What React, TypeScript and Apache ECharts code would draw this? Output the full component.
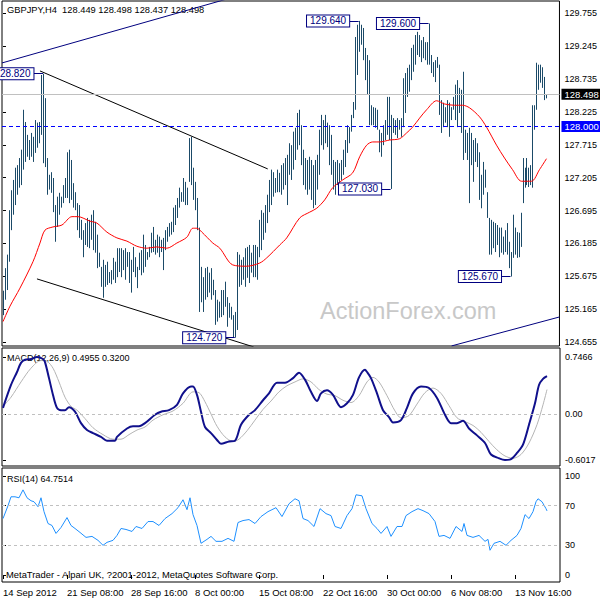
import React, { useEffect, useRef } from 'react';
import * as echarts from 'echarts';

// ---------- DATA ----------
const symbolTitle = 'GBPJPY,H4';
const lastBar = [128.449, 128.498, 128.437, 128.498]; // O H L C

const highs = [
  125.45,125.80,126.01,126.70,127.01,127.17,127.36,127.40,127.51,127.64,
  128.26,128.07,127.87,127.79,127.90,127.84,128.10,128.06,128.07,128.80,
  128.82,128.44,127.51,127.25,127.29,127.20,126.78,126.91,126.97,126.91,
  127.09,127.20,127.60,127.64,127.48,127.12,126.98,126.81,126.78,126.55,
  126.39,126.50,126.58,126.55,126.63,126.70,126.52,126.32,126.04,125.82,
  125.93,125.85,125.90,125.74,125.77,125.96,125.90,126.11,126.11,126.11,
  126.08,126.11,126.05,126.05,125.93,126.13,125.97,125.82,126.04,126.08,
  126.32,126.16,126.05,126.13,126.35,126.44,126.24,126.32,126.29,126.24,
  126.27,126.39,126.44,126.50,126.52,126.74,126.78,126.89,127.05,126.98,
  127.20,127.14,127.05,127.82,127.84,127.36,127.14,126.89,126.43,125.82,
  125.66,125.80,125.82,125.73,125.80,125.62,125.46,125.31,125.28,125.46,
  125.46,125.59,125.35,125.26,125.20,125.07,125.12,126.05,126.01,125.93,
  125.97,126.11,126.13,126.16,126.04,126.16,126.16,126.13,126.55,126.70,
  126.66,126.78,126.94,127.17,127.33,127.29,127.20,127.33,127.28,127.40,
  127.43,127.51,127.56,127.74,127.71,127.92,127.98,128.21,128.26,128.02,
  127.64,127.51,127.48,127.53,127.48,127.40,127.48,127.56,127.95,128.18,
  128.10,128.18,128.06,128.02,127.87,127.48,127.45,127.48,127.43,127.48,
  127.64,127.79,128.02,127.99,128.18,128.38,129.39,129.58,129.64,129.58,
  129.53,129.22,129.11,129.03,128.33,128.30,128.29,128.26,127.95,127.90,
  128.02,128.10,128.46,128.46,128.18,128.13,128.10,128.13,128.10,128.13,
  128.75,128.83,128.91,128.96,129.22,129.27,129.42,129.47,129.42,129.34,
  129.39,129.31,129.31,129.60,129.11,129.00,129.03,129.08,128.96,128.41,
  128.37,128.30,128.41,128.37,128.30,128.46,128.65,128.72,128.60,128.57,
  128.85,127.95,127.90,127.98,127.90,127.79,127.82,127.74,127.60,127.25,
  127.45,127.33,126.98,126.58,126.55,126.52,126.50,126.47,126.43,126.43,
  126.29,126.39,126.50,126.21,126.05,126.63,126.43,126.36,126.35,126.66,
  127.51,127.36,127.51,127.36,127.40,128.33,128.33,128.99,128.96,128.96,
  128.92,128.77,128.498,
];

const lows = [
  125.07,125.31,125.46,125.90,126.39,126.63,126.78,126.94,127.05,127.09,
  127.33,127.45,127.53,127.48,127.53,127.45,127.59,127.67,127.74,127.87,
  127.43,127.37,126.94,127.02,126.97,126.67,126.21,126.44,126.63,126.74,
  126.81,126.89,126.89,126.81,126.86,126.74,126.70,126.39,126.27,126.24,
  125.97,126.16,126.13,126.11,126.24,126.08,126.04,125.80,125.82,125.51,
  125.34,125.51,125.54,125.57,125.55,125.62,125.57,125.66,125.74,125.66,
  125.77,125.62,125.82,125.57,125.42,125.74,125.66,125.49,125.77,125.69,
  125.73,125.82,125.93,125.97,126.04,126.05,126.01,126.04,125.97,126.05,
  125.77,126.08,126.21,126.29,126.32,126.36,126.47,126.58,126.74,126.83,
  126.83,126.78,126.78,127.14,127.09,126.86,126.70,126.39,125.12,125.27,
  125.12,125.31,125.35,125.42,125.31,125.38,124.92,124.97,125.03,125.04,
  125.07,125.20,124.89,125.03,125.00,124.73,124.72,124.84,125.51,125.54,
  125.62,125.51,125.65,125.57,125.73,125.66,125.66,125.62,125.97,126.08,
  126.24,126.35,126.50,126.67,126.78,126.91,126.97,126.98,126.98,126.94,
  127.02,127.09,126.78,127.25,127.17,127.33,127.48,127.64,127.71,127.40,
  127.09,127.02,126.94,127.02,126.86,126.73,126.78,127.02,127.25,127.71,
  127.64,127.74,127.68,127.40,127.25,127.02,126.94,127.09,126.98,127.17,
  127.25,127.37,127.59,127.74,127.92,128.13,128.26,128.80,129.16,129.27,
  129.03,128.72,128.49,128.02,128.02,128.02,127.98,127.95,127.60,127.53,
  127.71,127.79,127.87,127.79,127.03,127.90,127.87,127.82,127.95,127.84,
  127.99,128.21,128.46,128.54,128.72,128.85,128.96,129.11,129.08,129.00,
  129.06,129.03,128.96,128.96,128.83,128.77,128.69,128.91,128.18,127.90,
  127.99,128.06,127.99,127.84,128.10,128.26,128.10,127.99,128.21,127.90,
  127.48,127.59,127.48,126.81,127.40,127.14,127.45,127.37,126.86,126.73,
  126.94,127.05,126.58,126.01,126.01,126.11,126.05,126.16,125.97,126.04,
  126.01,126.05,126.01,125.80,125.67,125.96,126.01,125.96,125.97,126.13,
  126.81,127.05,127.09,127.06,127.09,127.05,127.95,128.26,128.57,128.68,
  128.60,128.41,128.437,
];

// moving average (bar index, price)
const maLine = [
  [0,124.97],[3.5,125.21],[8.5,125.49],[15,125.90],[18.5,126.19],[21,126.39],[25,126.44],
  [29.5,126.47],[34.5,126.60],[37.5,126.60],[43.5,126.53],[47,126.50],[52,126.36],[57,126.27],
  [62,126.22],[67,126.14],[72,126.11],[77,126.13],[82,126.11],[87,126.19],[92,126.28],
  [95,126.42],[97,126.42],[99.5,126.36],[105,126.19],[108.5,126.11],[115,125.85],[122,125.83],
  [128.5,125.88],[132,125.96],[138.5,126.16],[142,126.27],[148.5,126.58],[153.5,126.67],
  [157,126.73],[161,126.86],[165,127.05],[170,127.17],[175,127.28],[178.5,127.53],[182,127.71],
  [185,127.76],[188.5,127.76],[193.5,127.79],[198.5,127.81],[202,127.90],[205,127.99],
  [208.5,128.13],[212,128.26],[217,128.40],[221,128.35],[226,128.33],[230,128.33],
  [233.5,128.29],[238.5,128.15],[242,127.99],[247,127.71],[251,127.51],[255,127.33],
  [259.5,127.15],[264.5,127.15],[268.5,127.33],[272,127.50],
];

const macdLine = [
  [0,0.08],[4,0.38],[7,0.55],[9,0.67],[11,0.71],[14,0.72],[17,0.7466],[20,0.72],[21,0.68],
  [23,0.47],[25,0.25],[27,0.08],[29,0.05],[31,0.05],[33,0.09],[36,0.03],[39,-0.12],[42,-0.21],
  [45,-0.25],[49,-0.30],[52,-0.35],[56,-0.35],[57,-0.30],[62,-0.19],[65,-0.16],[68,-0.16],
  [71,-0.12],[76,-0.01],[79,0.03],[83,0.05],[87,0.12],[90,0.27],[94,0.36],[95,0.36],[97,0.25],
  [99,0.03],[101,-0.17],[104,-0.25],[107,-0.34],[109,-0.39],[113,-0.36],[116,-0.35],[119,-0.14],
  [123,-0.01],[126,0.05],[130,0.18],[133,0.27],[137,0.41],[141,0.41],[145,0.47],[148,0.54],
  [151,0.45],[154,0.29],[157,0.17],[159,0.27],[162,0.31],[165,0.25],[169,0.09],[172,0.14],
  [175,0.25],[178,0.48],[181,0.58],[182,0.55],[184,0.47],[187,0.27],[190,0.05],[193,-0.04],
  [195,-0.11],[199,-0.08],[202,0.08],[205,0.27],[209,0.36],[213,0.34],[217,0.21],[221,-0.01],
  [224,-0.12],[227,-0.12],[230,-0.09],[233,-0.19],[237,-0.28],[241,-0.38],[244,-0.53],
  [248,-0.58],[251,-0.6017],[254,-0.59],[257,-0.51],[260,-0.40],[263,-0.14],[266,0.14],
  [268,0.38],[270,0.46],[272,0.4955],
];

const signalLine = [
  [0,0.10],[4,0.22],[9,0.42],[14,0.60],[19,0.70],[22,0.69],[25,0.60],[28,0.42],[31,0.22],
  [34,0.10],[37,0.05],[41,-0.06],[45,-0.18],[50,-0.27],[55,-0.33],[59,-0.33],[63,-0.27],
  [67,-0.21],[71,-0.17],[75,-0.08],[80,-0.01],[85,0.04],[90,0.14],[95,0.29],[98,0.28],
  [101,0.16],[104,0.00],[107,-0.16],[111,-0.30],[115,-0.36],[118,-0.33],[122,-0.22],
  [126,-0.08],[130,0.06],[134,0.17],[138,0.29],[142,0.37],[146,0.42],[150,0.46],[154,0.42],
  [158,0.32],[162,0.26],[166,0.24],[170,0.18],[174,0.15],[178,0.24],[182,0.42],[185,0.48],
  [188,0.42],[192,0.24],[196,0.04],[199,-0.05],[203,-0.02],[207,0.13],[211,0.28],[215,0.34],
  [219,0.27],[223,0.11],[227,-0.05],[231,-0.10],[235,-0.15],[239,-0.24],[243,-0.36],
  [247,-0.47],[251,-0.55],[255,-0.58],[259,-0.53],[263,-0.38],[267,-0.14],[270,0.12],[272,0.32],
];

const rsiLine = [
  [0,57],[2.5,70],[4,79],[6,79],[8,78],[10,86],[12,78],[14,75],[15.5,74],[17.5,69],[19,78],
  [20.5,64],[22.5,52],[24.5,50],[26.5,42],[29,48],[32,58],[34,50],[36,47],[38.5,43],[41.5,38],
  [44.5,39],[47.5,35],[50,30],[52,33],[55,35],[57,40],[59,47],[61.5,46],[64.5,44],[66.5,49],
  [69.5,47],[72.5,54],[75,54],[78,50],[81,57],[84.5,62],[87.5,68],[90,76],[92,66],[93.5,78],
  [95,61],[97,50],[99,32],[102,36],[104,39],[106.5,34],[109.5,34],[112.5,37],[115.5,34],
  [117.5,53],[120,55],[123,56],[126,52],[129,59],[132.5,64],[136.5,68],[139.5,59],[143,72],
  [146,77],[148,75],[150,57],[152.5,55],[155.5,49],[158.5,67],[161.5,62],[164,60],[166,49],
  [169,47],[172,60],[174.5,67],[176.5,81],[179.5,80],[181.5,67],[184.5,52],[187,47],[189,42],
  [192,49],[194,39],[197,49],[199.5,49],[201.5,60],[204.5,64],[207.5,67],[210,65],[213,62],
  [216,54],[218,39],[220.5,40],[223.5,37],[226.5,49],[229.5,44],[230.5,52],[232,40],[235,38],
  [238,40],[241,34],[242.5,36],[243.5,25],[245.5,32],[248.5,34],[251.5,30],[254,35],[257,40],
  [259,47],[261,61],[263,57],[265,64],[266.5,74],[267.5,77],[269.5,74],[271.5,67],[272,64.7514],
];

const priceTicks = [129.755,129.245,128.735,128.225,127.715,127.205,126.695,126.185,125.675,125.165,124.655];
const macdTicks = [0.7466, 0, -0.6017];
const rsiTicks = [100, 70, 30, 0];
const rsiLevels = [70, 30];
const timeTickIdx = [0, 32, 64, 96, 128, 160, 192, 224, 256];
const timeLabels = ['14 Sep 2012','21 Sep 08:00','28 Sep 16:00','8 Oct 00:00','15 Oct 08:00','22 Oct 16:00','30 Oct 00:00','6 Nov 08:00','13 Nov 16:00'];

const extremes = [
  { i: 20, v: 128.82 },
  { i: 116, v: 124.72 },
  { i: 178, v: 129.64 },
  { i: 194, v: 127.03 },
  { i: 213, v: 129.6 },
  { i: 254, v: 125.67 },
];

const trendLines = [
  { color: '#00007f', pts: [[-0.5, 128.987], [120, 130.05]] },
  { color: '#000000', pts: [[18.5, 128.863], [132.5, 127.341]] },
  { color: '#000000', pts: [[17, 125.633], [125.5, 124.576]] },
  { color: '#00007f', pts: [[224.5, 124.592], [278.5, 125.042]] },
];

const bidLevel = 128.498;
const hLevel = 128.0;
const macdLegend = [0.4955, 0.32];
const rsiLegend = 64.7514;

// ---------- STYLE ----------
const FONT = '"Liberation Sans", Arial, sans-serif';
const BAR_COLOR = '#1b4a68';
const NAVY = '#000080';

export default function App() {
  const ref = useRef<HTMLDivElement>(null);

  useEffect(() => {
    if (!ref.current) return;
    const chart = echarts.init(ref.current, undefined, { renderer: 'svg' });

    const xMin = -0.5, xMax = 278.5;
    const grids = [
      { left: 2, top: 1, width: 558, height: 345 },
      { left: 2, top: 348, width: 558, height: 118 },
      { left: 2, top: 468, width: 558, height: 114 },
    ];
    const yRanges = [
      [124.591, 129.949],
      [-0.6811, 0.8644],
      [-7.07, 108.08],
    ];
    const yTicks: number[][] = [priceTicks, macdTicks, rsiTicks];
    const yFmt = [
      (v: number) => v.toFixed(3),
      (v: number) => (v === 0 ? '0.00' : v.toFixed(4)),
      (v: number) => String(v),
    ];

    const barData = highs.map((h, i) => [i, h, lows[i]]);

    const option: any = {
      animation: false,
      backgroundColor: '#ffffff',
      textStyle: { fontFamily: FONT },
      grid: grids.map((g) => ({ ...g, show: true, borderColor: '#000', borderWidth: 1, backgroundColor: '#fff' })),
      xAxis: grids.map((_, k) => ({
        type: 'value', gridIndex: k, min: xMin, max: xMax,
        axisLine: { show: false }, splitLine: { show: false },
        axisTick: { show: k === 2, customValues: timeTickIdx, length: 4, lineStyle: { color: '#000' } },
        axisLabel: {
          show: k === 2, customValues: timeTickIdx, align: 'left', margin: 5,
          fontSize: 9.5, color: '#000', fontFamily: FONT,
          formatter: (v: number) => timeLabels[timeTickIdx.indexOf(Math.round(v))] || '',
        },
      })),
      yAxis: grids.map((_, k) => ({
        type: 'value', gridIndex: k, position: 'right',
        min: yRanges[k][0], max: yRanges[k][1],
        axisLine: { show: false }, splitLine: { show: false },
        axisTick: { show: true, customValues: yTicks[k], length: 3, lineStyle: { color: '#000' } },
        axisLabel: { customValues: yTicks[k], formatter: yFmt[k], margin: 5, fontSize: 9, color: '#000', fontFamily: FONT },
      })),
      series: [
        {
          type: 'custom', xAxisIndex: 0, yAxisIndex: 0, clip: true, silent: true,
          data: barData,
          encode: { x: 0, y: [1, 2] },
          renderItem: (params: any, api: any) => {
            const i = api.value(0);
            const p1 = api.coord([i, api.value(1)]);
            const p2 = api.coord([i, api.value(2)]);
            const x = Math.round(p1[0]) + 0.5;
            return {
              type: 'line',
              shape: { x1: x, y1: p1[1], x2: x, y2: p2[1] },
              style: { stroke: BAR_COLOR, lineWidth: 1 },
            };
          },
          markLine: {
            silent: true, symbol: ['none', 'none'], animation: false,
            data: [
              {
                yAxis: bidLevel,
                lineStyle: { color: '#c0c0c0', type: 'solid', width: 1 },
                label: { show: true, position: 'end', distance: 2, formatter: bidLevel.toFixed(3), color: '#fff', backgroundColor: '#000', padding: [1, 3, 0, 3], fontSize: 9.5, fontFamily: FONT },
              },
              {
                yAxis: hLevel,
                lineStyle: { color: '#0000ff', type: [4, 3], width: 1 },
                label: { show: true, position: 'end', distance: 2, formatter: hLevel.toFixed(3), color: '#fff', backgroundColor: '#0000ff', padding: [1, 3, 0, 3], fontSize: 9.5, fontFamily: FONT },
              },
              ...extremes.map((e) => [
                { coord: [e.i - 4.75, e.v], lineStyle: { color: NAVY, type: 'solid', width: 1 }, label: { show: false } },
                { coord: [e.i, e.v] },
              ]),
            ],
          },
          markPoint: {
            silent: true, symbol: 'rect', symbolSize: 0, animation: false,
            label: {
              show: true, position: 'left', distance: 0, color: NAVY, backgroundColor: '#fff',
              borderColor: NAVY, borderWidth: 1, padding: [1, 3, 0, 3], fontSize: 10, fontFamily: FONT,
            },
            data: extremes.map((e) => ({ coord: [e.i - 4.75, e.v], value: e.v, label: { formatter: e.v.toFixed(3) } })),
          },
        },
        {
          type: 'line', xAxisIndex: 0, yAxisIndex: 0, data: maLine, symbol: 'none', smooth: 0.3, silent: true,
          lineStyle: { color: '#ff0000', width: 1 },
        },
        ...trendLines.map((t) => ({
          type: 'line', xAxisIndex: 0, yAxisIndex: 0, data: t.pts, symbol: 'none', silent: true, clip: true,
          lineStyle: { color: t.color, width: 1 },
        })),
        {
          type: 'line', xAxisIndex: 1, yAxisIndex: 1, data: signalLine, symbol: 'none', smooth: 0.3, silent: true,
          lineStyle: { color: '#b4b4b4', width: 1 },
          markLine: {
            silent: true, symbol: ['none', 'none'], label: { show: false },
            lineStyle: { color: '#c0c0c0', type: [3, 3], width: 1 },
            data: [{ yAxis: 0 }],
          },
        },
        {
          type: 'line', xAxisIndex: 1, yAxisIndex: 1, data: macdLine, symbol: 'none', smooth: 0.3, silent: true,
          lineStyle: { color: '#10108c', width: 2 },
        },
        {
          type: 'line', xAxisIndex: 2, yAxisIndex: 2, data: rsiLine, symbol: 'none', silent: true,
          lineStyle: { color: '#1e90ff', width: 1 },
          markLine: {
            silent: true, symbol: ['none', 'none'], label: { show: false },
            lineStyle: { color: '#c0c0c0', type: [3, 3], width: 1 },
            data: rsiLevels.map((v) => ({ yAxis: v })),
          },
        },
      ],
      graphic: [
        {
          type: 'text', left: 320, top: 299, silent: true, z: 1,
          style: { text: 'ActionForex.com', fill: '#c8c8c8', font: `23.5px ${FONT}` },
        },
        {
          type: 'text', left: 7, top: 5, silent: true,
          style: { text: `${symbolTitle}  ${lastBar.map((v) => v.toFixed(3)).join(' ')}`, fill: '#000', font: `9.3px ${FONT}` },
        },
        {
          type: 'text', left: 7, top: 353, silent: true,
          style: { text: `MACD(12,26,9) ${macdLegend[0].toFixed(4)} ${macdLegend[1].toFixed(4)}`, fill: '#000', font: `9px ${FONT}` },
        },
        {
          type: 'text', left: 7, top: 474, silent: true,
          style: { text: `RSI(14) ${rsiLegend.toFixed(4)}`, fill: '#000', font: `9px ${FONT}` },
        },
        {
          type: 'text', left: 6, top: 570, silent: true,
          style: { text: 'MetaTrader - Alpari UK, ?2001-2012, MetaQuotes Software Corp.', fill: '#000', font: `9.4px ${FONT}` },
        },
      ],
    };

    chart.setOption(option);
    return () => chart.dispose();
  }, []);

  return (
    <div
      ref={ref}
      style={{ position: 'fixed', left: 0, top: 0, width: 600, height: 600, background: '#fff' }}
    />
  );
}
